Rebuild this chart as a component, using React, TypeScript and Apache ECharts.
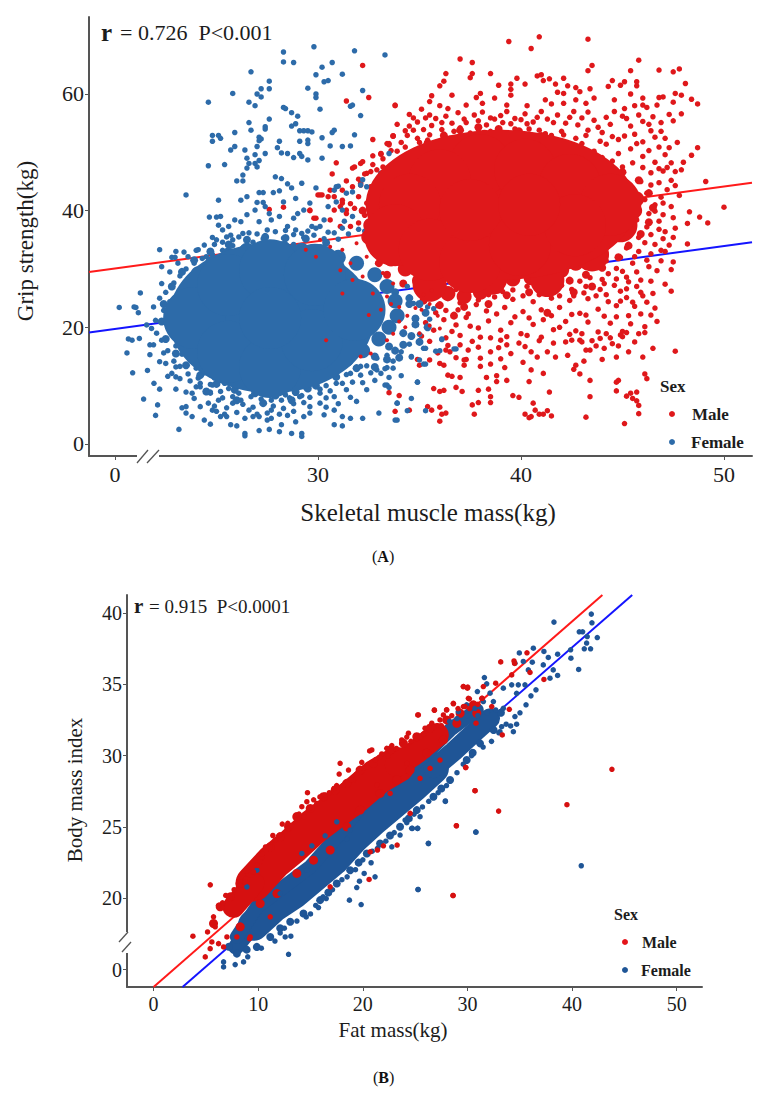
import React, { useEffect, useRef } from "react";
import * as echarts from "echarts";

type P = number[];

// ---------- Panel A (x axis is broken: the tick printed "0" sits at 20 on the drawn scale) ----------
const aXTicks = [20, 30, 40, 50];
const aYTicks = [0, 20, 40, 60];
const aMaleLine: P[] = [[18.72, 29.5], [51.38, 44.8]];
const aFemaleLine: P[] = [[18.72, 19.1], [51.38, 34.6]];

// Dense centres of the clouds: solid areas whose single points cannot be read, stand-in large marks.
const aFemaleCentre: P[] = [[27.7, 21.6]];
const aMaleCentre: P[] = [[39, 41]];
const aFemaleCore: P[] = [[23.9, 21.6], [25.57, 27.25], [25.57, 15.8], [27.64, 29.8], [27.64, 13.2], [29.85, 29], [29.7, 17.8], [27.64, 21.6], [31.8, 23]];
const aMaleCore: P[] = [[37.98, 47.8], [36, 45.2], [40.2, 47], [42.4, 44.4], [44.4, 41], [34.53, 41], [33.8, 35.8], [35.5, 33.3], [37.5, 31.2], [39.95, 34.1], [42.66, 37.5], [37.5, 40.1], [40.4, 41]];
const aMaleLobes: P[] = [[41.3, 28.1], [35.5, 27.3], [44.9, 37.5], [38.5, 28.5], [43.5, 32.5]];
const aMaleRim: P[] = [[33,39],[33.2,42],[33.8,44.5],[34.3,46.5],[35,48.5],[35.8,50],[36.6,51.2],[37.4,52],[38.2,52.6],[39,52.2],[39.8,51.8],[40.6,51.2],[41.4,50.5],[42.2,49.3],[43,48.2],[43.8,46.8],[44.5,45.4],[45.2,43.8],[45.7,42],[45.6,40],[45.2,38],[44.7,36.2],[44.1,34.4],[43.5,32.6],[42.7,31],[42,29.8],[41.4,27],[40.5,28.5],[39.6,28.3],[38.8,27],[38,26],[37.2,25.3],[36.4,25.8],[35.6,26.5],[35,28],[34.3,30],[33.6,31.7],[33,33.5],[32.5,35.5],[32.6,37.5]];
const aMaleClumps: P[] = [[32.2,40],[32.7,43],[33.2,45.5],[34,48],[34.7,49.8],[35.4,51.6],[36.2,52.9],[37,53.8],[37.9,54.3],[38.9,54],[39.9,53.6],[41,52.8],[42,51.2],[43,50.3],[44,48.5],[45,46.6],[45.8,45.2],[46.3,43],[46.5,40.5],[46.3,38],[45.9,36],[45.3,34],[44.8,32],[44,30.2],[43.2,29],[42.4,28],[42.6,26],[40.4,26],[39.3,25.5],[38.4,24],[37.2,23.5],[36,23.8],[35.2,24.6],[36.7,22],[41.3,22.5],[43.5,27],[34.2,27.5],[33.4,29],[33,31]];
const aFemaleRim: P[] = [[23.1,21.5],[23.2,24.5],[23.6,27],[24.1,29.2],[24.8,31],[25.6,32.4],[26.5,33.2],[27.4,33.6],[28.3,33.5],[29.2,33.2],[30.1,33],[31,32],[31.9,31],[32.8,29],[33.4,27],[33.8,24.5],[33.9,22],[33.5,20],[33,18],[32.2,16],[31.4,14.5],[30.4,13.2],[29.4,12],[28.4,11],[27.4,10.7],[26.4,11],[25.4,12.2],[24.6,13.8],[23.9,15.7],[23.4,18]];
const aFemaleClumps: P[] = [[22.3,21],[22.4,24],[22.8,27],[23.3,29.5],[23.9,31.5],[24.7,33],[25.6,34.2],[26.5,35],[27.4,35.5],[28.4,35.3],[29.4,35.2],[30.4,34.5],[22.5,18],[23,15.5],[23.5,13.5],[24.2,11.8],[25,10.3],[25.9,9.3],[26.9,8.7],[27.9,8.3],[28.9,8.9],[29.9,10],[30.9,11.5],[31.9,13],[32.8,15],[33.5,16.7],[34.2,19],[34.8,21.5],[34.5,24],[29.5,9.5],[24.5,9],[26,7.5],[27.3,7],[28.7,7.5],[33.8,26],[34.5,25],[35,24],[35.3,22.5],[34.8,20.5],[35.4,20],[34.6,18.5],[35,17.5],[34.2,17],[33.8,16],[34,14.8],[33.4,14.5],[32.8,13.2]];

const aFemalePoints: P[] = [
  [29.8,68.1],[28.3,67.2],[28.3,65.5],[28.8,65.4],[26.7,63.8],[30.2,64.6],[30.7,65.4],[31.8,67.4],[33.3,66.7],[29.9,63.3],[31.2,63.4],[30.3,62.1],[30.5,62.3],[27.6,62.2],[27.2,60.9],[27.6,60.9],[29.5,61],[25.8,60.1],[27,60],[27.2,59.5],[29.9,60],[29.9,59.4],[32.2,60.6],[24.6,58.6],[26.6,58.6],[26.9,58],[31.6,57.9],[31.7,58.1],[30.1,57.4],[28.3,57.7],[28.4,57.5],[28.7,56.8],[29,56.2],[32.1,56.3],[27.6,55.7],[26.6,55.1],[28.9,54.9],[28.7,54.5],[27.4,54.4],[27.4,54],[26.7,53.8],[25.9,53.4],[29.1,53.7],[29.3,53.7],[29.5,53.7],[29.7,53.5],[30.8,53.8],[30.7,53.4],[24.8,52.9],[25.1,52.9],[25.2,52.4],[24.8,51.9],[27.1,52.6],[27.2,52.3],[27.1,52],[30.2,52.5],[31.8,53],[28.1,51.9],[29.1,51.9],[29.5,52.1],[29.5,51.5],[27,51],[25.9,51],[25.7,50.4],[26.4,50.4],[28,50.8],[28.2,49.9],[28.5,49.8],[28.8,49.1],[29.1,49.8],[29.2,49.3],[29.5,48.7],[30.2,49],[30.6,51.1],[31.2,51],[31.6,51.1],[27.4,49.8],[26.9,49.6],[26.5,49],[26.6,48.1],[26.9,48.1],[27.1,48.6],[27,47.5],[26.5,47.3],[24.6,47.7],[25.4,47.9],[26.3,46.1],[26,45.1],[26.3,45.1],[27.9,45.8],[28.2,45.5],[28.5,44.6],[28.7,43.9],[29.2,44.7],[29.9,43.9],[31,44.2],[23.5,42.7],[25.1,41.8],[26.2,41.8],[26.5,42.4],[27.1,43.1],[27.3,43.1],[27.8,43.1],[28.1,43.4],[28.3,41.5],[28.9,42.1],[27,41.4],[27.3,41.4],[29.6,41.3],
  [22.2,33.3],[24.1,33.3],[22.8,32],[22.96,32],[22.3,30.4],[24.8,35.4],[24.65,38.9],[25,38.9],[25.2,39],[25.1,37.5],[25.3,36.7],[25.6,37.3],[25.5,35.5],[25.9,38.4],[26.2,38.1],[25.8,35],[26.3,36.1],[26.5,39.3],[27.1,38.1],[26.9,40.1],[27.4,40.7],[27.6,39.5],[27.7,38.4],[28.1,39],[28.5,37.3],[28.8,38.7],[29,39.5],[29.3,40.1],[29.7,37.3],[30.1,37.3],[30.3,38.4],[30.5,40.7],[30.9,41.5],[28.9,36.7],[29.2,36.1],[25,35],[24.5,32.1],[31.4,43],[32.1,44.4],
  [21.25,25.9],[20.21,23.4],[20.94,23.5],[21.03,23.4],[21.15,22.5],[20.59,15.6],[20.87,12.2],[20.66,18],[20.84,17.8],[21.2,18.1],[21.6,12.6],[21.41,7.7],[22.1,6.7],[22,4.9],[22.2,9.4],[21.92,10.4],[23.15,2.5],[21.72,15.3],[21.72,17],[21.56,20.4],[21.8,19.8],[22.05,19],[22.3,17.8],[22.2,14.1],[22.5,13.8],[22.8,12.1],[23,11.5],[23.3,6.2],[23.5,6.4],[23.8,8.7],[23.9,7.8],[23.5,5.3],[23.8,4.7],[24.2,6.4],[24.4,4.1],[24.7,3.4],[24.7,8.7],[25.1,7.5],[24.8,5.8],[25.2,4.7],[25.5,4.7],[25.7,3.3],[26,3.1],[26.4,1.8],[26.4,1.4],[26.4,4.4],[26.8,4.7],[27.1,2.3],[27.6,2.5],[28.1,2.1],[28.7,1.8],[29.2,1.8],[29.2,1.3],[27.5,5.3],[28.2,3.3],[27.1,4.7],[27.7,5.8],[25.8,7],[26.2,7.5],[28.5,4.9],[28.9,3.8],[29.3,4.7],[29.6,6.4],[30.1,7],[30.3,5],[30.8,5.8],[30.8,3.3],[31.2,4.7],[31.2,3.1],[31.6,4.4],[32.2,4.4],[33,5.3],[31.9,7.3],[32.4,9.3],[30.8,8.1],[31.4,9.3],[29.1,8.1],[30.1,8.7],[24.8,10.1],[24.2,10.4],[33.9,7],[33.9,4.1],[33.4,10.1],[32.9,12.7],[31.6,12.1],[32.1,13.3],[30.9,10.4],[23.2,13.3],[24,9.8],
  [22.5,26],[22.7,24.4],[22.4,22.9],[22.8,21.5],[22.6,20],[22.9,18.6],[23,16.8],[23.3,15.4],[23.7,14.4],[24,13],[24.4,12.2],[24.9,11.3],[25.4,10.4],[25.9,9.6],[26.4,9.9],[26.9,9],[27.4,8.6],[27.9,8.9],[28.4,8.4],[28.9,8.7],[29.4,9.6],[29.9,10.3],[30.4,10],[30.9,11.4],[31.4,11.9],[31.9,12.8],[32.4,13.4],[32.9,14.7],[33.4,15.2],[22.9,27.6],[23.2,28.8],[23.5,30],[23.9,31],[24.3,31.8],[24.8,32.5],[25.3,33.2],[25.8,34],[26.3,33.6],[26.8,34.6],[27.3,35.2],[27.8,34.3],[28.3,35.3],[28.8,34.2],[29.3,35.4],[29.8,35.8],[30.3,35.2],[30.8,36.2],[31.2,37],[22.3,27.5],[22.7,29.5],[23.1,31],[23.6,32.1],
  [24.2,9.8],[24.7,8.9],[25.3,7.9],[25.8,8.1],[26.3,6.8],[26.8,6.3],[27.3,6.9],[27.8,6.5],[28.3,6.1],[28.8,6.9],[29.3,7.1],[23.2,11.2],[23.7,10.8],[22.9,14.2],[22.4,15.6],[30.4,7.9],[31,6.9],[31.6,8],[32.2,10.5],[32.8,10.9],[33.4,13.1],[24.6,7],[25,5.6],[25.5,6.2],[26,5.4],[27,5.1],[27.5,4.1],
  [34,35.5],[34.7,33.8],[35.2,35],[33.7,32.1],[33.2,33.8],[34,31],[34.5,31],[35.6,29.8],[34.9,26.7],[34.7,24.1],[34.4,27],[32.7,37.3],[33.1,43],[32.2,45.3],[32.4,44.1],[31.7,43.2],[31.2,40.1],[31.7,39],[30.9,44.1],[30.8,43.5],[33.5,49.8],[33.9,48.1],[33.1,46.4],[35.4,23.5],[36.1,17.9],[35.2,16.4],[36,16],[36.8,16.3],[34.6,15],[35,14.4],[35.2,13.7],[34.9,10.6],[35.3,13.7],[36.1,18],[35.8,15.9],[36.7,16.3],[34.6,14.9],[35.3,16.4],[34.1,11.7],[33.5,11.4],[33.7,13],[33.3,12.9],[34.9,10.6],[33.3,10.1],[33.5,9.7],[34.6,7.8],[33.9,7],[34.4,5.7],[35.3,5.7],[33.8,4.1],
  [22.2,25],[21.9,23.5],[22,21.2],[21.9,17],[22.6,16],[23,13.2],[23.6,12],[24.1,11.3],[24.7,10.2],[25.2,9],[25.6,9.5],[26.1,8.7],[26.7,8.1],[27.2,7.7],[27.7,7.5],[28.2,7.5],[28.6,7.9],[29.2,8.3],[29.6,8],[30.1,9.4],[30.6,9.1],[31.2,10.4],[31.7,10.6],[32.1,11.8],[32.6,12.2],[33.1,12.1],[33.7,14.2],[34.1,15.8],[34.5,17.1],[35,18.8],[35.5,21.4],[35.7,23.2],[24.9,6.5],[25.4,5.1],[26.6,5.8],[27.7,4.4],[28.1,5.1],[28.8,5.6],[29.6,5.3],[30.4,6.3],[23,9.4],[23.5,8.9],[22.6,11.6],[23,33],[23.4,32.9],[24,33.2],[24.4,34.1],[24.9,34.2],[25.3,34.6],[25.7,35.8],[26.1,35.5],[26.6,36.2],[27,36],[27.5,36.7],[27.9,36.4],[28.4,36.6],[28.8,35.9],[29.5,36.5],[29.9,37],[30.5,36.3],[31,35.1],[31.3,38.2],[31.5,36],[32,36.8],[32.3,36.5],
];

const aMalePoints: P[] = [
  [40.9,69.8],[39.4,69],[40.5,67.8],[43.3,69.4],[37,66],[37.6,65.4],[43.5,64.9],[43.3,64],[45.8,65.8],[45.4,64],[46.8,64.1],[47.5,63.8],[47.8,64.3],[36.3,63.5],[37.6,63.5],[38.5,63.5],[37.5,62.8],[36.2,62.2],[36,61.4],[39.8,62.7],[40.8,63.1],[41,63.3],[41.1,62.3],[41.4,62.6],[42.1,62.7],[38.9,61.5],[39.5,61.7],[40.2,61.7],[41.7,61.7],[42.3,61.4],[42.7,61.1],[44.5,62.3],[44.3,61.3],[45.1,62.1],[44.9,61.5],[45.7,62.1],[45.7,61.4],[48.1,61.8],[43.4,60.9],[39.5,60.8],[41.8,60.3],[42.1,60.1],[42.9,60.4],[35.6,59.7],[36.6,59.8],[37.8,59.4],[38,60.1],[38.7,59.3],[39.5,59.8],[41.2,59],[45.4,60],[46,59.3],[46.8,59.4],[47,59.5],[47.6,60.1],[47.9,59.8],[48.4,59.1],[48.7,58.3],[47.5,58.6],[44.6,59],[43.6,59.3],[42.7,59],[33.8,58],[35.5,58.7],[36,58],[37.3,58.1],[38.1,58.4],[39.3,58.1],[40.3,58],[41.5,58.3],[42.1,58.4],[43.2,58.4],[45.6,58],[46,58.1],[46.2,57.7],[46.7,58.1],[45.1,57.5],[35.1,57.4],[36.4,57.5],[34.5,56.5],[33.9,54.8],[34.5,54.5],[34.3,53.7],[33.7,52.8],[33.4,51.5],[33.1,49.7],[47.9,56.6],[47.3,56.5],[47.5,55.4],[46.9,55.1],[46.5,56.1],[46,55.3],[47.1,52.4],[47.7,51.7],[48.7,50.8],[48.4,49.5],[48,48.3],[47.9,47],[47.6,46.7],[49.1,45],[50,40.6],[48.3,39.8],[48.8,38.9],[49.2,37.9],[48.2,37.8],[47.6,37],[48.2,34.3],[47.5,35.4],[47.1,33],[47.5,31.2],[47.4,29.9],
  [47.6,15.9],[46.5,16.4],[47.4,26.2],[47.1,27.4],[46.6,23.3],[46.7,21],[46.1,20.1],[46.1,19.1],[45.6,17.5],[45,19.3],[45,18.4],[44.8,16.8],[44.7,14.9],[44.1,16.4],[43.4,16.1],[43.2,16.1],[42.9,17.8],[43,17.5],[42.5,17.8],[42.2,17.5],[41.3,15.8],[40.8,14.9],[40.5,15.8],[40.2,16.7],[39.9,17.3],[39.3,17],[39.5,15.5],[38.5,15.8],[37.4,16.1],[37,17],[36.5,15.8],[36.3,16.1],[36,13.8],[35.5,14.4],[34.9,14.5],[35,13.5],[36.2,13.5],[36.4,11.8],[36.6,11.6],[37,11.4],[37.2,14.4],[37.3,14.5],[37.2,13.5],[38,14.7],[38,13.3],[38.5,13.7],[39.2,13.1],[38.3,11.4],[38.8,11.7],[39.3,10.9],[38.8,10.7],[40.5,12.7],[40.4,10.7],[41.1,12.1],[42.6,12.8],[42.7,13.5],[42.9,12],[43.4,10.9],[44.8,10.9],[44.7,10.6],[46.1,12],[46.2,11.2],[44.7,9.1],[45.4,8.7],[45.2,8.2],[45.5,7.8],[45.7,8.9],[45.7,7.4],[45.8,6.6],[45.8,5.2],[45.1,3.5],[43.4,8.1],[43.2,4.6],[41.4,8.9],[39.6,8.3],[39.9,8],[38.4,9.4],[37.9,9.2],[38.5,8.1],[38.5,7.1],[37.9,7.1],[37.6,6.7],[37.7,5.1],[37.1,9],[36.8,9.7],[35.7,9.5],[36,9],[36.2,9.2],[35.4,6.4],[35.6,5.8],[36,6.3],[36.1,5.1],[36.3,5.3],[36,3.9],[34,8.3],[33.5,8.8],[33.8,5.6],[34.5,5.8],[40.6,7],[40.7,5.8],[40.2,5.1],[40.4,4.5],[40.5,4.7],[40.9,5.1],[41.1,5.1],[41.3,5.7],[41.5,4.8],
  [32.2,64.9],[31.4,58.8],[32.5,59.4],[33.8,58.1],[32.7,52.2],[33.7,52.8],[33.5,51.5],[33.1,49.8],[32.7,49.4],[30.9,48.2],[30.7,46.3],[32.1,48.1],[31.8,47.5],[29.8,38.7],[28.3,40.6],[27.6,40.2],[29.6,40],[30,42.7],[30.2,42.7],[30.6,43.5],[30.8,42.4],[31.2,41.3],[31.4,40.1],[31.7,44.1],[32.1,44.7],[32.4,46.4],[32.9,47],[33.2,47.5],
  [31.7,47.3],[32.2,48.4],[33.1,49.7],[33.5,51.3],[33.7,52.8],[33.1,46.4],[32.6,46.7],[33.4,46.4],[33.9,47.8],[32.1,44.4],[32,42.4],[31.2,41.8],[30.1,42.7],[30.5,42.4],[31.1,40.7],[30.8,40.1],[31.4,39.5],[29.6,40.1],[29.9,38.7],[30.6,38.4],[31.1,37.3],[31.6,37.3],[32.6,44.1],[32.9,41.8],[32.4,41.3],[34.9,52.4],[34.8,50.4],[35.4,52.1],[35.8,50.7],
  [34.9,55.2],[35.6,54.6],[36.1,53.9],[36.6,55],[37,54.2],[37.5,53.3],[37.9,55.4],[38.3,54.7],[38.7,55.7],[39.1,53.4],[39.5,54.9],[40,55.6],[40.4,54],[40.8,56],[41.2,53.2],[41.6,55.1],[42,53.6],[42.4,56],[42.8,54.7],[43.2,52.9],[43.6,55.5],[44,53.4],[44.4,54.8],[44.8,52.2],[45.2,55.8],[45.6,53.1],[46,51.8],[46.4,53.7],[46.8,50.9],[47.1,49.6],[34.4,52.9],[35,51.7],[35.5,53],[36,51.2],[36.5,52.4],[37,51.1],[37.6,52.5],[38.2,51.5],[38.8,52.2],[39.4,50.9],[40,52.8],[40.6,51.3],[41.2,50.6],[41.8,51.9],[42.4,50.8],[43,51.5],[43.6,50.2],[44.2,51.4],[44.8,49.8],[45.4,50.6],[46,49.3],[46.6,48.3],[47,46.8],[47.4,45.2],[47.2,43.6],[46.8,44.8],[46.4,46.5],[46,47.4],[45.5,48.2],[45,47.5],[44.5,48.5],[44,49.1],[43.5,48.5],[43,49.2],[42.5,49],[42,48.9],
  [46.9,42.3],[46.6,41],[46.2,43],[45.9,45],[45.7,40.3],[46.3,39.5],[46.8,38.2],[46.2,37.2],[45.7,38.4],[45.3,36.2],[45.8,35.4],[46.4,35.9],[45.2,33.6],[45.8,33],[46.4,32.6],[44.9,32],[45.5,31],[46.3,30.4],[44.7,30.1],[44.2,31.4],[43.8,33.5],[44.3,34.6],[44.8,35.2],[47.1,36.4],[47.3,34.1],[46.9,33.2],[46.9,31.4],[44.3,29.2],[45.2,28.6],[45.9,28.1],[46.4,27.9],
  [35.4,25.2],[35.9,23.7],[36.4,24.9],[36.9,23],[37.3,25.4],[37.8,23.9],[38.3,22.8],[38.7,25.2],[39.2,23.4],[39.6,24.8],[40.1,22.7],[40.6,24.4],[41,23],[41.5,25],[41.9,23.4],[42.4,24.6],[42.9,22.4],[43.3,24.9],[43.8,23.1],[44.2,25.6],[44.7,23.7],[45.2,25.1],[45.6,23.6],[46,25.4],[36.2,21.3],[36.8,20.4],[37.3,21.7],[37.9,19.9],[38.4,21.1],[39,19.5],[39.5,20.8],[40,18.9],[40.6,20.5],[41.1,21.3],[41.6,19.6],[42.2,21],[42.7,19.4],[43.3,20.9],[43.8,19.2],[44.4,20.7],[44.9,18.7],[45.4,20.6],[35.7,19.5],[36.3,18.2],[37,18.6],[37.6,17.6],[35.3,20.8],[35.1,18.5],[38.5,18.2],[39.3,18.4],[41,18.3],[41.6,17.3],[43.5,17.7],[43.9,18.1],[44.4,18.2],[35.5,27.9],[36.2,27],[36.8,26.5],[37.5,27.5],[38.2,26.7],[38.9,27.6],[39.6,26.4],[40.3,27],[42.5,26.5],[43.2,27],[43.9,26.5],[44.6,27.2],[45.2,26.6],[45.7,27],
  [33.9,50.2],[34.3,50.9],[34.7,53.8],[35.2,53.9],[35.3,55.9],[35.8,55.8],[36.3,56.2],[36.9,56.8],[37.2,55.7],[37.7,56.4],[38.1,56.9],[38.5,55.9],[39,56.3],[39.3,57],[39.7,55.8],[40.2,56.6],[40.6,55.2],[41,57],[41.3,55.7],[41.8,56.4],[42.2,55],[42.6,57],[43,55.9],[43.3,56.9],[43.8,54.3],[44.2,56],[44.6,57],[45,56.2],[45.4,54.5],[45.8,56.4],[46.3,54.8],[46.6,52.6],[46.9,53.6],[47.3,50.8],[47.4,48.2],[47.2,47.4],[47.6,44.3],[47,41.3],[47.4,40.7],[47.8,42.6],[46.4,44.4],[46.8,47.2],[46.3,50.3],[45.7,51.5],[45.1,52.8],[44.5,52.7],[43.9,51.9],[43.3,53.8],[42.7,52.4],[42.1,53],[41.5,52.9],[40.9,53.8],[40.3,54.9],[39.7,54],[39.1,55.1],[38.5,53.6],[37.9,53.9],[37.3,55.1],[36.7,53.6],[36.1,55.1],[35.5,56.4],[34.7,55.9],[34.1,51.7],[33.6,50.3],[33.2,48.9],[32.7,47.9],[32.3,46.3],[32,45.4],[31.4,45.1],[31.2,43.5],[31.6,41.2],[32.3,39.2],[31.8,40.4],[32.7,38.8],[32,37.9],[33.5,44.3],[33.9,46.1],[34.4,48.8],[35,50],
  [46.1,41.9],[46.6,39.9],[47,39.3],[47.5,38.8],[46.8,36.8],[47,35.2],[46.1,34.5],[46.6,34.2],[45.6,32.1],[46.2,31.5],[45.7,29.5],[46.7,29.7],[45,29.6],[45.3,27.8],[44.7,28.3],[44,28.2],[43.4,28.5],[42.9,27.9],[42,27.2],[41.9,25.4],[42.6,25.4],[43.1,25.9],[43.7,25.4],[44.3,24.4],[44.9,24.5],[45.5,24.3],[46.2,24.3],[46.5,25.8],[45.9,26],[44.9,26.2],[44.1,27.5],[40.9,25.6],[40.1,25.4],[39.1,26.1],[38.4,25.6],[37.9,24.7],[37,24.2],[36.3,22.9],[35.8,22.5],[37.4,22.3],[38.8,22.3],[39.7,21.8],[40.4,21.6],[41.5,22],[42.5,22.2],[43.2,22.1],[44.1,21.9],[44.7,21.8],[45.3,22],[45.9,22.3],[46.4,22.1],[36.6,19.3],[37.5,20.2],[38,18.3],[39,17.8],[40.3,18.6],[41.9,20],[42.4,18.8],[43,18.9],[44.2,18.9],[45.2,19.1],[45.8,18.9],[35.5,17.6],[36.4,16.9],[37.9,16.6],[38.9,16.5],[40.9,17.7],[43.7,16.8],[44.5,17.2],[36.8,14.8],[35.9,15.6],[41.7,14.9],[42.3,15.2],[39,14.6],[40.1,14],[43.1,14.2],[44,14.5],[45.3,15.8],[46,14.9],
];
const aMaleSpecks: P[] = [[30.1,35],[30.6,33.8],[31.2,33.3],[31.9,34.4],[31.6,31],[31.1,29.8],[32.4,32.1],[32.9,31],[33.2,29.3],[33.7,27.5],[32.2,28.7],[31.7,28.1],[31.2,25.8],[32.7,25.8],[33.4,25.3],[34,23.5],[33.1,23],[32.5,22.1],[34,21],[33.4,17.8],[32.6,15.5],[32.1,15],[30.4,17.8],[29.9,32.1],[29.4,33.3],[35.1,23],[35.5,24],[35.9,22],[35.5,20.3],[36,19.8],[35,19],[34.4,22],[34.8,23.3],[34.3,20],[33.6,24],[33.7,18.9],[35.2,25.6],[35.6,26.3]];

// ---------- Panel B (y axis is broken: the tick printed "0" sits at 15 on the drawn scale) ----------
const bXTicks = [0, 10, 20, 30, 40, 50];
const bYTicks = [15, 20, 25, 30, 35, 40];
const bMaleLine: P[] = [[0, 13.78], [42.9, 41.26]];
const bFemaleLine: P[] = [[2.77, 13.78], [45.75, 41.26]];

// Midlines of the two solid bands, drawn as thick stand-in strokes.
const bFemaleBand: P[] = [[9.55,18.11],[11.47,19.4],[13.38,20.33],[15.29,21.5],[17.2,22.67],[19.11,24.2],[21.02,25.48],[22.93,26.65],[24.84,27.82],[26.75,29.11]];
const bFemaleTail: P[] = [[26.75,29.11],[28.66,30.28],[30.57,31.57],[32.16,32.62]];
const bFemaleStart: P[] = [[7.9,16.6],[9.55,18.11]];
const bInterface: P[] = [[7.96,17.29],[9.87,19.4],[12.42,20.8],[14.97,22.2],[17.51,24.31],[20.06,26.65],[22.61,28.06],[25.79,29.93],[28.34,31.8],[30.89,33.2]];
const bMaleBand: P[] = [[9.55,21.04],[11.47,22.56],[13.38,23.73],[15.29,25.02],[17.2,26.07],[19.11,27.12],[21.34,28.52],[23.25,29.34]];
const bMaleTail: P[] = [[7.64,19.4],[9.55,21.04]];
const bMaleTip: P[] = [[23.25,29.34],[25.16,30.28],[27.07,31.45]];
const bMaleRim: P[] = [[5.73,18.23],[6.37,19.4],[7.33,20.1],[8.28,21.04],[9.24,21.74],[10.19,22.91],[11.15,23.61],[12.1,24.31],[12.9,25.01],[13.69,25.72],[14.97,26.3],[16.24,27.12],[17.36,27.59],[18.47,28.06],[19.74,28.99],[21.02,29.46],[22.61,30.4],[23.88,30.86],[25.16,31.33],[26.43,31.92],[28.02,32.5],[29.3,32.97],[30.57,33.56],[8.28,18],[10.19,19.63],[11.79,20.33],[13.69,21.74],[15.29,22.67],[16.88,23.38],[18.47,25.01],[19.74,26.18],[21.65,27.35],[23.25,28.29],[24.52,28.99],[26.11,30.16],[27.7,31.1],[28.98,32.27],[30.89,32.97]];
const bFemaleRim: P[] = [[7.96,16.12],[9.87,16.59],[11.15,17.29],[13.06,18.35],[14.33,18.93],[15.92,19.87],[17.51,21.04],[18.79,21.97],[20.38,23.14],[21.65,23.84],[23.56,25.01],[25.16,26.18],[26.75,27.12],[28.34,28.29],[29.93,29.69],[31.2,30.86],[32.5,31.8],[33.2,33],[7.2,16.6],[8.9,16.4],[12.1,17.9],[16.7,20.4],[19.6,22.5],[22.6,24.4],[24.4,25.6],[27.5,27.7],[30.5,30.2]];

const bFemalePoints: P[] = [
  [12.9,16.07],[12.58,17.29],[13.12,17.34],[8.6,15.54],[7.8,15.35],[6.69,15.54],[6.69,15.19],[12.1,17.57],[14.59,18.69],[15.76,19.35],[16.5,19.98],[18.72,19.87],[19.84,19.56],[19.42,20.75],[19.68,21.2],[20.13,21.74],[21.17,21.5],[20.79,22.49],[25.28,20.61],[26.27,23.84],[30.79,24.64],[27.89,26.82],[24.74,24.9],[25.25,24.9],[22.77,23.61],[23.56,24.43],[25.47,25.72],[24.04,25.48],
  [38.27,39.36],[41.84,39.92],[41.9,39.31],[40.69,38.68],[41.01,38.68],[42.41,38.28],[41.45,38.35],[41.39,37.89],[41.77,37.49],[41.17,37.49],[39.86,37.42],[39.89,36.83],[40.63,36.04],[36.3,37.53],[37.31,37.3],[34.96,37.2],[38.62,37.11],[37.73,36.88],[36.2,36.55],[37.25,36.36],[35.34,36.6],[34.54,36.48],[35.82,36.01],[38.2,36.01],[38.62,35.62],[37.89,35.43],[31.62,35.47],[31.84,35.03],[30.95,34.49],[33.43,34.73],[34.23,34.96],[34.86,34.96],[34.7,34.37],[35.5,34.96],[36.55,34.61],[36.07,34.19],[35.6,33.56],[35.02,33],[34.54,32.74],[34.7,32.2],[34.13,32.08],[34.39,31.68],[33.27,32.03],[33.11,31.68],[32.16,34.38],[31.52,33.79],[32.48,33.79],[33.43,33.32],[29.13,33.09],[29.93,33.56],[30.72,33.32],[27.89,26.79],[26.27,23.85],[30.82,24.64],[40.88,22.28],[25.28,20.62],[24.67,24.9],[25.22,24.9],
  [8.92,20.8],[12.1,20.33],[14.17,23.14],[15.13,23.68],[16.4,24.38],[17.51,25.36],[18.79,24.78],[18.47,24.15],[14.65,21.97],[9.87,21.97],
  [9,15.9],[10.3,16.5],[11.6,17],[12.5,17.9],[13.7,18.4],[15,18.9],[15.5,19.5],[16.2,20.1],[17.1,20.6],[18,21.3],[18.5,21.5],[19.3,22],[20,22.7],[20.9,23.3],[21.4,23.5],[22.2,24],[23,24.6],[24.2,25.3],[24.9,25.9],[25.7,26.4],[26.3,26.8],[27.2,27.4],[28,27.9],[29,28.8],[29.6,29.4],[30.4,30],[31.5,30.6],[32.3,31],[33,31.6],[33.7,32.2],[32.7,33.2],[31.9,33],[31,32.8],[30,32.8],[29,32.6],[28.3,32.4],
];
const bMalePoints: P[] = [
  [5.42,20.94],[3.76,17.34],[4.94,15.89],[5.16,17.64],[6.59,19.68],[6.21,19.51],[5.73,18.7],[5.89,18],[7.33,19.98],[8.28,20.92],[8.76,21.15],[9.55,21.85],[10.35,23.09],[10.19,22.56],[11.15,23.61],[12.04,24.43],[11.62,24.08],[12.83,25.25],[12.9,24.9],[13.63,25.83],[14.17,26.42],[14.71,27.4],[14.65,26.77],[14.9,26.3],[15.6,26.65],[16.4,27.24],[17.26,27.7],[17.83,29.46],[17.74,28.71],[18.63,28.99],[18.15,27.94],[19.1,28.29],[19.9,29.53],[20.06,29.11],[20.86,30.4],[20.65,30.33],[21.81,30.12],[22.77,30.7],[22.29,30.51],[23.72,31.1],[24.36,31.57],[24.2,31.3],[25.5,31.3],[25.25,32.85],[26.84,33.2],[27.38,32.5],[26.59,32.27],[25.95,31.92],[28,33.2],[28.66,33.63],[29.77,33.44],[29.61,34.84],[30.03,34.8],[30.19,33.98],[31.52,34.84],[31.37,34.02],
  [29.84,29.18],[30.73,27.54],[28.95,25.08],[28.63,20.19],[20.6,21.32],[23.28,23.73],[21.4,23.38],[21.97,23.68],[16.88,20.8],
  [43.81,29.04],[39.51,26.56],[32.98,26.11],[30.72,27.54],[29.83,29.16],[28.94,25.09],[28.62,20.2],[35.69,37.21],[33.18,36.57],[34.45,36.64],[34.51,36.46],[35.98,35.83],[37.31,35.34],[32.7,35.08],[29.61,34.84],[30,34.73],[31.42,34.02],[34.23,35.66],[34,33.25],[33.33,31.45],[28.65,33.67],[26.84,33.18],[25.31,32.85],[27.7,32.85],[28.02,33.21],[32.32,33.44],[30.09,34.02],[29.61,33.44],[30.82,32.27],
  [25.47,28.41],[27.38,29.69],[26.43,29.11],[24.2,29.46],[22.61,27.35],[21.34,27.94],[19.42,25.95],[24.52,25.95],[20.7,23.26],[11.15,18.7],[9.24,17.29],[6.69,16.59],[6.21,16.82],[7.01,17.29],[5.57,16.94],[5.41,16.47],[7.96,17.29],[9.17,17.17],
  [6.9,20.2],[7.7,20.6],[8.9,21.9],[9.9,22.3],[10.7,23.6],[11.4,24.4],[12.3,25.2],[13.2,25.1],[13.9,25.9],[14.4,25.7],[15.3,26.9],[15.9,27.1],[16.8,27.4],[17.5,27.9],[18.9,28.3],[19.4,28.7],[20.4,29.2],[21.2,29.7],[21.6,29.9],[22.4,30],[23.2,30.5],[24.6,31],[25.8,31.5],[26.8,32],[27.5,32.1],[28.5,32.8],[29.1,33.3],[30.2,33.3],[31,33.6],
];

const aMaleColor = "#df181b";
const aFemaleColor = "#2d6ba9";
const bMaleColor = "#d61010";
const bFemaleColor = "#1f5596";
const serif = "'Liberation Serif', serif";
const axisColor = "#555555";
const textColor = "#1c1c1c";

function dots(name: string, data: P[], color: string, size: number | number[], g: number, z: number) {
  return {
    type: "scatter", name, data, xAxisIndex: g, yAxisIndex: g, symbol: "circle", symbolSize: size,
    itemStyle: { color, opacity: 1 }, z, silent: true,
  };
}
function fit(name: string, data: P[], color: string, g: number) {
  return {
    type: "line", name, data, xAxisIndex: g, yAxisIndex: g, showSymbol: false, silent: true,
    lineStyle: { color, width: 2 }, z: 1,
  };
}
function band(name: string, data: P[], color: string, width: number, g: number, z: number) {
  return {
    type: "line", name, data, xAxisIndex: g, yAxisIndex: g, showSymbol: false, silent: true,
    lineStyle: { color, width, cap: "round", join: "round" }, z,
  };
}
function valueAxis(dim: "x" | "y", g: number, min: number, max: number, ticks: number[], size: number, broken: number) {
  return {
    type: "value", gridIndex: g, min, max, splitLine: { show: false },
    axisLine: { show: true, onZero: false, lineStyle: { color: axisColor, width: 2 } },
    axisTick: { show: true, customValues: ticks, length: 4, lineStyle: { color: axisColor, width: 1 } },
    axisLabel: {
      show: true, customValues: ticks, fontFamily: serif, fontSize: size, color: textColor, margin: dim === "x" ? 7 : 5,
      formatter: (v: number) => (v === broken ? "0" : String(v)),
    },
  };
}
function label(x: number, y: number, text: string, size: number, extra: any = {}) {
  return {
    type: "text", x, y, z: 20, silent: true,
    style: { text, fontFamily: serif, fontSize: size, fill: textColor, textAlign: "left", textVerticalAlign: "middle", ...extra },
  };
}
function rotated(x: number, y: number, text: string, size: number) {
  return {
    type: "text", x, y, rotation: Math.PI / 2, z: 20, silent: true,
    style: { text, fontFamily: serif, fontSize: size, fill: textColor, textAlign: "center", textVerticalAlign: "middle" },
  };
}
function stroke(x1: number, y1: number, x2: number, y2: number) {
  return { type: "line", z: 21, silent: true, shape: { x1, y1, x2, y2 }, style: { stroke: axisColor, lineWidth: 1.3 } };
}
function mask(x: number, y: number, width: number, height: number) {
  return { type: "rect", z: 19, silent: true, shape: { x, y, width, height }, style: { fill: "#ffffff" } };
}
function dot(cx: number, cy: number, color: string) {
  return { type: "circle", z: 20, silent: true, shape: { cx, cy, r: 3 }, style: { fill: color } };
}
function caption(x: number, y: number, letter: string) {
  return {
    type: "text", x, y, z: 20, silent: true,
    style: {
      text: "(" + "{b|" + letter + "}" + ")", fontFamily: serif, fontSize: 16, fill: "#111111", textVerticalAlign: "middle",
      rich: { b: { fontFamily: serif, fontSize: 16, fontWeight: "bold", fill: "#111111" } },
    },
  };
}

export default function App() {
  const ref = useRef<HTMLDivElement>(null);
  useEffect(() => {
    const chart = echarts.init(ref.current!, undefined, { renderer: "svg" });
    chart.setOption({
      animation: false,
      backgroundColor: "#ffffff",
      grid: [
        { left: 89, top: 17, width: 663, height: 439 },
        { left: 127, top: 595, width: 575, height: 392 },
      ],
      xAxis: [
        valueAxis("x", 0, 18.72, 51.38, aXTicks, 22, 20),
        valueAxis("x", 1, -2.54, 52.42, bXTicks, 20, -999),
      ],
      yAxis: [
        valueAxis("y", 0, -2.06, 73.2, aYTicks, 22, -999),
        valueAxis("y", 1, 13.78, 41.26, bYTicks, 20, 15),
      ],
      series: [
        fit("Male fit A", aMaleLine, "#ff1a1a", 0),
        fit("Female fit A", aFemaleLine, "#1414ff", 0),
        dots("Male A edge", aMalePoints, aMaleColor, 5.5, 0, 2),
        dots("Male A clumps", aMaleClumps, aMaleColor, 8, 0, 2),
        dots("Female A edge", aFemalePoints, aFemaleColor, 5.5, 0, 3),
        dots("Female A clumps", aFemaleClumps, aFemaleColor, 8, 0, 3),
        dots("Female A rim", aFemaleRim, aFemaleColor, 15, 0, 4),
        dots("Female A centre", aFemaleCentre, aFemaleColor, [205, 150], 0, 4),
        dots("Female A core", aFemaleCore, aFemaleColor, 62, 0, 4),
        dots("Male A rim", aMaleRim, aMaleColor, 15, 0, 5),
        dots("Male A lobes", aMaleLobes, aMaleColor, 34, 0, 5),
        dots("Male A centre", aMaleCentre, aMaleColor, [270, 150], 0, 5),
        dots("Male A core", aMaleCore, aMaleColor, 62, 0, 5),
        dots("Male A specks", aMaleSpecks, aMaleColor, 4, 0, 6),

        fit("Male fit B", bMaleLine, "#ff1a1a", 1),
        fit("Female fit B", bFemaleLine, "#1414ff", 1),
        band("Female B start", bFemaleStart, bFemaleColor, 16, 1, 2),
        band("Female B band", bFemaleBand, bFemaleColor, 31, 1, 2),
        band("Female B tail", bFemaleTail, bFemaleColor, 20, 1, 2),
        band("Band interface", bInterface, bFemaleColor, 14, 1, 2),
        dots("Female B rim", bFemaleRim, bFemaleColor, 8, 1, 2),
        band("Male B band", bMaleBand, bMaleColor, 36, 1, 3),
        band("Male B tail", bMaleTail, bMaleColor, 22, 1, 3),
        band("Male B tip", bMaleTip, bMaleColor, 24, 1, 3),
        dots("Male B rim", bMaleRim, bMaleColor, 9, 1, 3),
        dots("Female B edge", bFemalePoints, bFemaleColor, 5.5, 1, 4),
        dots("Male B edge", bMalePoints, bMaleColor, 5.5, 1, 5),
      ],
      graphic: [
        label(101, 32, "r", 25, { fontWeight: "bold" }),
        label(120, 32, "= 0.726  P<0.001", 22),
        rotated(25, 241, "Grip strength(kg)", 23),
        { ...rotated(428, 512, "Skeletal muscle mass(kg)", 25), rotation: 0 },
        mask(137, 453, 22, 7),
        stroke(137, 463, 148, 450),
        stroke(147, 463, 159, 450),
        label(660, 386, "Sex", 17, { fontWeight: "bold" }),
        dot(672, 414, aMaleColor),
        label(692, 414, "Male", 17, { fontWeight: "bold" }),
        dot(672, 442, aFemaleColor),
        label(691, 442, "Female", 17, { fontWeight: "bold" }),
        caption(372, 556, "A"),

        label(134, 606, "r", 21, { fontWeight: "bold" }),
        label(149, 606, "= 0.915  P<0.0001", 19),
        rotated(75, 790, "Body mass index", 21),
        { ...rotated(393, 1030, "Fat mass(kg)", 21), rotation: 0 },
        mask(124, 932, 6, 21),
        stroke(119, 942, 128, 932),
        stroke(122, 952, 131, 942),
        label(614, 914, "Sex", 16, { fontWeight: "bold" }),
        dot(625, 942, "#e4141a"),
        label(642, 942, "Male", 16, { fontWeight: "bold" }),
        dot(625, 970, bFemaleColor),
        label(641, 970, "Female", 16, { fontWeight: "bold" }),
        caption(373, 1077, "B"),
      ],
    });
    return () => chart.dispose();
  }, []);
  return <div ref={ref} style={{ position: "absolute", left: 0, top: 0, width: 777, height: 1096 }} />;
}
